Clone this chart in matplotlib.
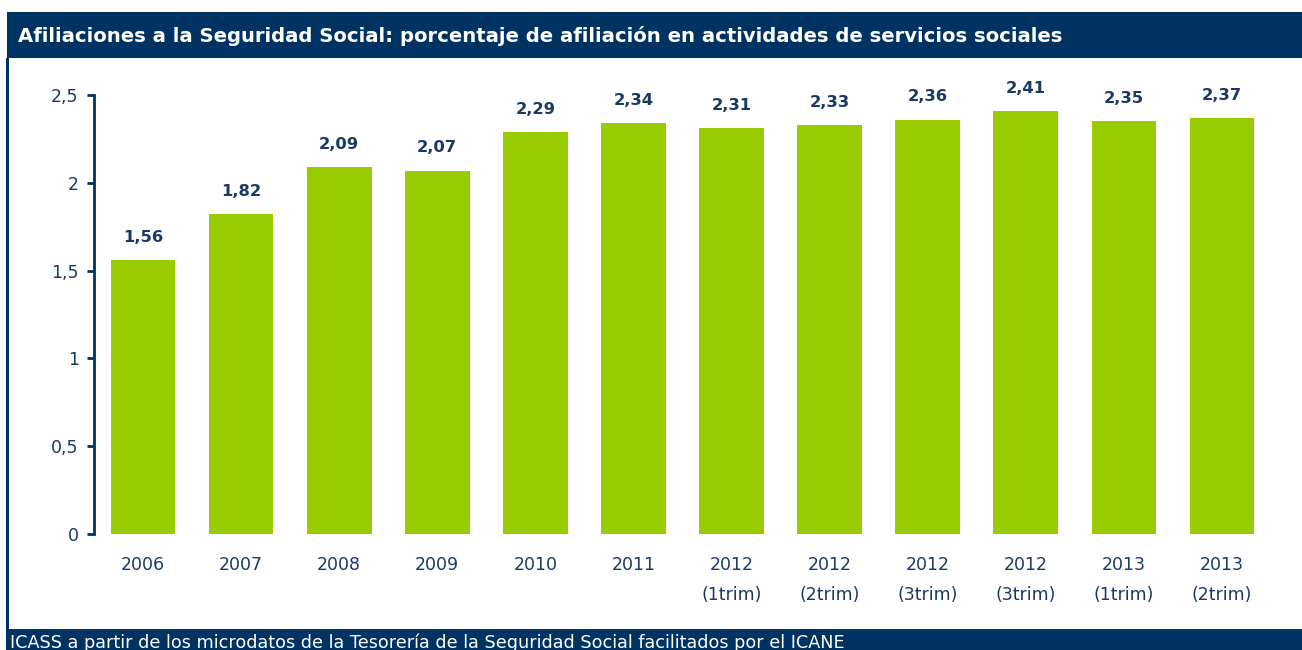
import matplotlib
matplotlib.use("Agg")
import matplotlib.pyplot as plt
from matplotlib.patches import Rectangle

categories = ["2006", "2007", "2008", "2009", "2010", "2011",
              "2012\n(1trim)", "2012\n(2trim)", "2012\n(3trim)", "2012\n(3trim)",
              "2013\n(1trim)", "2013\n(2trim)"]
values = [1.56, 1.82, 2.09, 2.07, 2.29, 2.34, 2.31, 2.33, 2.36, 2.41, 2.35, 2.37]
value_labels = ["1,56", "1,82", "2,09", "2,07", "2,29", "2,34", "2,31", "2,33", "2,36", "2,41", "2,35", "2,37"]
yticks = [0, 0.5, 1, 1.5, 2, 2.5]
ytick_labels = ["0", "0,5", "1", "1,5", "2", "2,5"]
title = "Afiliaciones a la Seguridad Social: porcentaje de afiliación en actividades de servicios sociales"
source = "ICASS a partir de los microdatos de la Tesorería de la Seguridad Social facilitados por el ICANE"

NAVY = "#003262"
TXT = "#1a3a66"
GREEN = "#99cc00"
W, H = 1302, 650

plt.rcParams['font.family'] = ['DejaVu Sans']

fig = plt.figure(figsize=(W / 100, H / 100), dpi=100)
fig.patch.set_facecolor("white")

# title bar
fig.patches.append(Rectangle((7 / W, 1 - 58 / H), 1 - 7 / W, 46 / H, transform=fig.transFigure,
                             facecolor=NAVY, edgecolor="none", zorder=0))
# left border
fig.patches.append(Rectangle((6 / W, 0), 3 / W, 1 - 58 / H, transform=fig.transFigure,
                             facecolor=NAVY, edgecolor="none", zorder=0))
# bottom bar
fig.patches.append(Rectangle((7 / W, 0), 1 - 7 / W, 21 / H, transform=fig.transFigure,
                             facecolor=NAVY, edgecolor="none", zorder=0))

fig.text(18 / W, 1 - 36 / H, title, color="white", fontsize=14.1, fontweight="bold",
         va="center", ha="left")
fig.text(10 / W, 1 - 643 / H, source, color="white", fontsize=12.7, va="center", ha="left")

ax = fig.add_axes([94 / W, 1 - 534 / H, (1271 - 94) / W, (534 - 95) / H])
x = list(range(len(categories)))
bars = ax.bar(x, values, width=0.66, color=GREEN, zorder=2)
ax.set_xlim(-0.5, len(categories) - 0.5)
ax.set_ylim(0, 2.5)
ax.set_yticks(yticks)
ax.set_yticklabels(ytick_labels)
ax.set_xticks(x)
ax.set_xticklabels(categories, linespacing=1.85)

for s in ["top", "right", "bottom"]:
    ax.spines[s].set_visible(False)
ax.spines["left"].set_color(NAVY)
ax.spines["left"].set_linewidth(2)
ax.tick_params(axis="y", direction="out", length=5, width=2, color=NAVY,
               labelcolor=TXT, labelsize=12.5, pad=6)
ax.tick_params(axis="x", length=0, labelcolor=TXT, labelsize=12.5, pad=16)
for lbl in ax.get_xticklabels():
    lbl.set_verticalalignment("top")

for xi, v, lab in zip(x, values, value_labels):
    ax.annotate(lab, (xi, v), xytext=(0, 11), textcoords="offset points",
                ha="center", va="bottom", color=TXT, fontsize=11.8, fontweight="bold",
                annotation_clip=False)

fig.savefig("out.png", dpi=100)
